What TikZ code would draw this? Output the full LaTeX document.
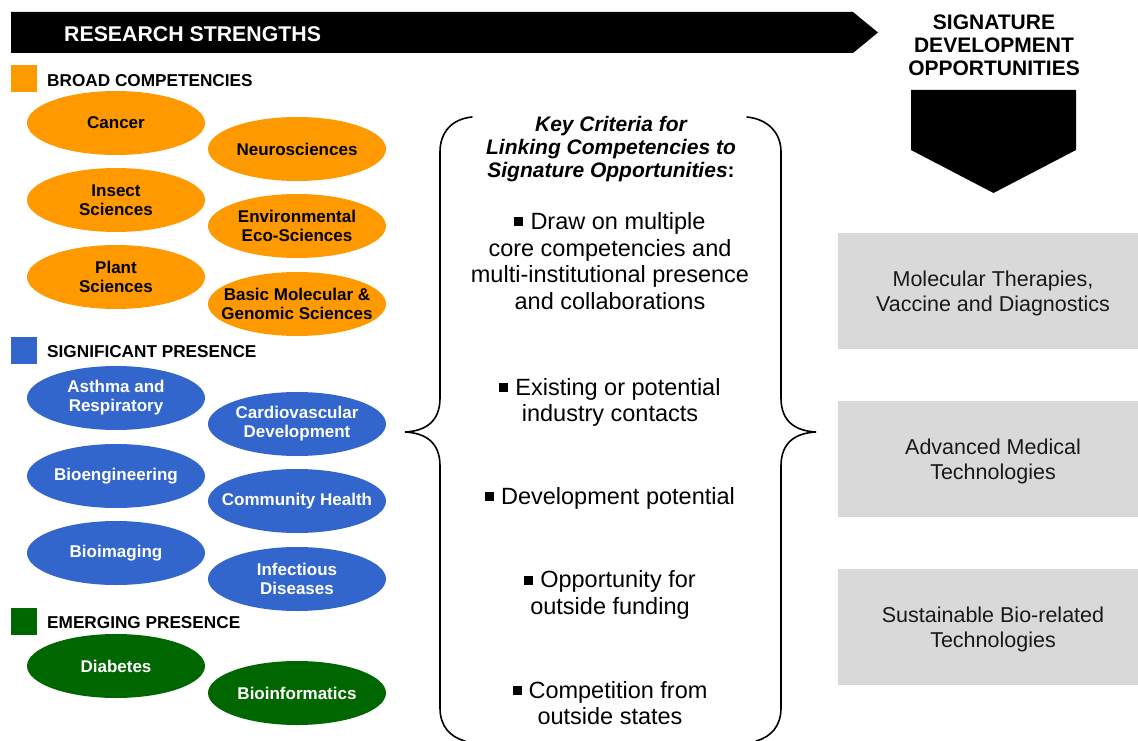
\documentclass[tikz,border=0pt]{standalone}
\usepackage{fontspec}
\setmainfont{Liberation Sans}
\usetikzlibrary{shapes.geometric}
\definecolor{orangec}{HTML}{FF9900}
\definecolor{bluec}{HTML}{3366CC}
\definecolor{greenc}{HTML}{006600}
\definecolor{boxgray}{HTML}{D9D9D9}
\tikzset{
  comp/.style={ellipse, minimum width=178pt, minimum height=64pt, inner ysep=0pt, inner xsep=-40pt,
    align=center, font=\bfseries\fontsize{17}{19}\selectfont},
  broad/.style={comp, fill=orangec, text=black},
  signif/.style={comp, fill=bluec, text=white},
  emerg/.style={comp, fill=greenc, text=white},
  legsq/.style={minimum width=26pt, minimum height=27pt, inner sep=0pt},
  leglabel/.style={anchor=west, inner sep=0pt, font=\bfseries\fontsize{17.2}{19}\selectfont},
  crit/.style={align=center, inner sep=0pt, font=\fontsize{23.5}{26.7}\selectfont},
  oppbox/.style={fill=boxgray, minimum width=300pt, minimum height=116pt, inner sep=0pt},
  opptext/.style={align=center, inner sep=0pt, font=\fontsize{21.5}{25}\selectfont, text=black!90},
  brace/.style={draw=black, line width=1.6pt, line cap=round}
}
\newcommand{\critbullet}{\rule[3pt]{9pt}{9pt}\hspace{7pt}}
\begin{document}
\begin{tikzpicture}[x=1pt,y=-1pt]
\useasboundingbox (0,0) rectangle (1138,741);

% header banner and arrow
\fill[black] (11,12) -- (853,12) -- (878,32.5) -- (853,53) -- (11,53) -- cycle;
\node[anchor=west, inner sep=0pt, text=white, font=\bfseries\fontsize{21.3}{24}\selectfont] (rs) at (64,34) {RESEARCH STRENGTHS};

\node[align=center, inner sep=0pt, font=\bfseries\fontsize{21}{23}\selectfont] (sdo) at (994,45) {SIGNATURE\\DEVELOPMENT\\OPPORTUNITIES};
\fill[black] (911,90) -- (1076,90) -- (1076,150) -- (993.5,193) -- (911,150) -- cycle;

% legend
\node[legsq, fill=orangec] (lg1) at (23.5,78.5) {};
\node[leglabel] (lt1) at (47,81) {BROAD COMPETENCIES};
\node[legsq, fill=bluec] (lg2) at (23.5,350) {};
\node[leglabel] (lt2) at (47,352) {SIGNIFICANT PRESENCE};
\node[legsq, fill=greenc] (lg3) at (23.5,621) {};
\node[leglabel] (lt3) at (47,623) {EMERGING PRESENCE};

% broad competencies
\node[broad] (cancer) at (116,123) {Cancer};
\node[broad] (neuro) at (297,149) {Neurosciences};
\node[broad] (insect) at (116,200) {Insect\\Sciences};
\node[broad] (env) at (297,226) {Environmental\\Eco-Sciences};
\node[broad] (plant) at (116,277) {Plant\\Sciences};
\node[broad] (basic) at (297,304) {Basic Molecular \&\\Genomic Sciences};

% significant presence
\node[signif] (asthma) at (116,398) {Asthma and\\Respiratory};
\node[signif] (cardio) at (297,424) {Cardiovascular\\Development};
\node[signif] (bioeng) at (116,476) {Bioengineering};
\node[signif] (commh) at (297,501) {Community Health};
\node[signif] (bioimg) at (116,553) {Bioimaging};
\node[signif] (infect) at (297,579) {Infectious\\Diseases};

% emerging presence
\node[emerg] (diab) at (116,666) {Diabetes};
\node[emerg] (binf) at (297,693) {Bioinformatics};

% braces
\draw[brace] (472,117) .. controls (452,119) and (440,132) .. (440,152)
  -- (440,398) .. controls (440,422) and (425,431) .. (405,432)
  .. controls (425,433) and (440,442) .. (440,466)
  -- (440,708) .. controls (440,726) and (450,737) .. (465,741);
\draw[brace] (747,117) .. controls (767,119) and (781,132) .. (781,152)
  -- (781,398) .. controls (781,422) and (796,431) .. (816,432)
  .. controls (796,433) and (781,442) .. (781,466)
  -- (781,708) .. controls (781,726) and (771,737) .. (756,741);

% criteria
\node[align=center, inner sep=0pt, font=\bfseries\itshape\fontsize{21}{23}\selectfont] (kc) at (611,149)
  {Key Criteria for\\Linking Competencies to\\Signature Opportunities\upshape:};
\node[crit] (c1) at (610,261) {\critbullet Draw on multiple\\core competencies and\\multi-institutional presence\\and collaborations};
\node[crit] (c2) at (610,402.5) {\critbullet Existing or potential\\industry contacts};
\node[crit] (c3) at (610,498) {\critbullet Development potential};
\node[crit] (c4) at (610,595) {\critbullet Opportunity for\\outside funding};
\node[crit] (c5) at (610,703) {\critbullet Competition from\\outside states};

% signature opportunities
\node[oppbox] (mt) at (988,291) {};
\node[opptext] (mtt) at (993,293.5) {Molecular Therapies,\\Vaccine and Diagnostics};
\node[oppbox] (amt) at (988,459) {};
\node[opptext] (amtt) at (993,461.5) {Advanced Medical\\Technologies};
\node[oppbox] (sbt) at (988,627) {};
\node[opptext] (sbtt) at (993,629.5) {Sustainable Bio-related\\Technologies};
\end{tikzpicture}
\end{document}
